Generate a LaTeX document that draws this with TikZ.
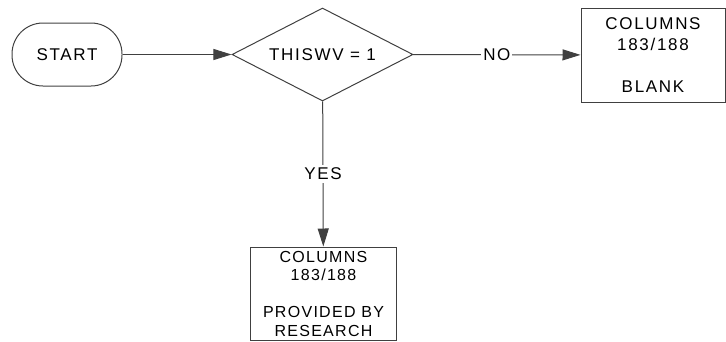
\documentclass[tikz,border=0pt]{standalone}
\usepackage{fontspec}
\setmainfont[LetterSpace=10]{Liberation Sans}
\newfontfamily\smallsans[LetterSpace=8]{Liberation Sans}
\usetikzlibrary{shapes.geometric,arrows.meta}
\tikzset{
  every node/.style={font=\fontsize{17pt}{21pt}\selectfont, text=black},
  lineclr/.style={draw=black!75, line width=1pt},
  termbox/.style={lineclr, rectangle, rounded corners=31pt, minimum width=110pt, minimum height=63pt, inner sep=0pt},
  decbox/.style={lineclr, diamond, aspect=1.95, minimum width=181pt, minimum height=93pt, inner sep=0pt},
  procbox/.style={lineclr, rectangle, align=center, inner sep=0pt},
  conn/.style={lineclr, -{Triangle[length=18pt,width=11pt]}},
  lbl/.style={fill=white, inner xsep=2pt, inner ysep=3pt}
}
\begin{document}
\begin{tikzpicture}[x=1pt,y=-1pt]
\useasboundingbox (0,0) rectangle (726,341);
\node[termbox] (start) at (67,54.5) {START};
\node[decbox] (dec) at (322.5,54.5) {THISWV = 1};
\node[procbox, minimum width=144pt, minimum height=94pt] (rbox) at (653,55)
  {COLUMNS\\183/188\\[21pt]BLANK};
\node[procbox, minimum width=146pt, minimum height=93pt, font=\smallsans\fontsize{16pt}{18.5pt}\selectfont] (bbox) at (323.5,293.5)
  {COLUMNS\\183/188\\[18.5pt]PROVIDED BY\\RESEARCH};
\draw[conn] (start) -- (dec);
\draw[conn] (dec) -- node[lbl] (no) {NO} (rbox);
\draw[conn] (dec) -- node[lbl] (yes) {YES} (bbox);
\end{tikzpicture}
\end{document}
